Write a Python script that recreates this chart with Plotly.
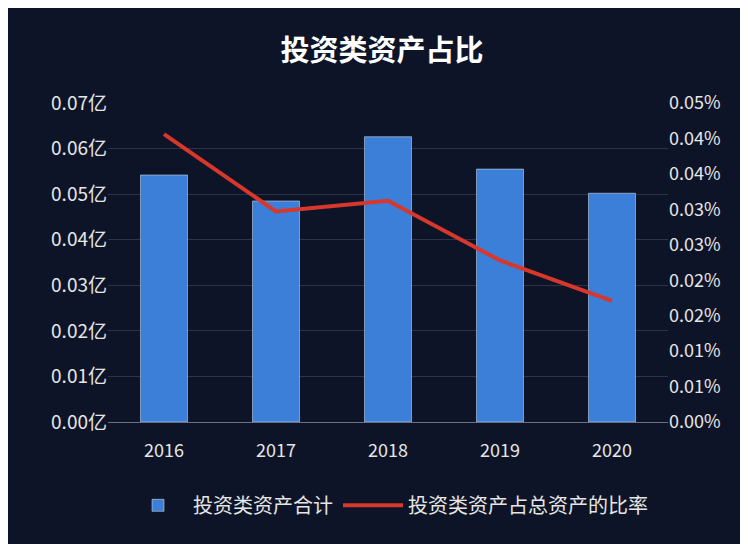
import plotly.graph_objects as go

years = ["2016", "2017", "2018", "2019", "2020"]
totals = [0.0542, 0.0485, 0.0626, 0.0555, 0.0502]
ratios = [0.0406, 0.0297, 0.0312, 0.0228, 0.0171]
left_ticks = [0, 0.01, 0.02, 0.03, 0.04, 0.05, 0.06, 0.07]
left_labels = ["0.00亿", "0.01亿", "0.02亿", "0.03亿", "0.04亿", "0.05亿", "0.06亿", "0.07亿"]
right_ticks = [0, 0.005, 0.01, 0.015, 0.02, 0.025, 0.03, 0.035, 0.04, 0.045]
right_labels = ["0.00%", "0.01%", "0.01%", "0.02%", "0.02%", "0.03%", "0.03%", "0.04%", "0.04%", "0.05%"]

bg = "#0e1427"
font = "Noto Sans CJK SC"
fig = go.Figure()
fig.add_bar(x=years, y=totals, name="投资类资产合计", marker_color="#3b7fd8", width=0.42)
fig.add_scatter(x=years, y=ratios, name="投资类资产占总资产的比率", yaxis="y2", mode="lines",
                line=dict(color="#d8372c", width=4))
fig.update_layout(
    width=748, height=544, paper_bgcolor=bg, plot_bgcolor=bg,
    font=dict(family=font, color="#e6e6e6", size=19),
    title=dict(text="<b>投资类资产占比</b>", x=0.5, y=0.94, xanchor="center",
               font=dict(size=29, color="white")),
    margin=dict(l=100, r=88, t=95, b=130),
    xaxis=dict(tickfont=dict(size=18), showgrid=False, showline=True, linecolor="#6b7080",
               ticks="outside", ticklen=12, tickcolor=bg),
    yaxis=dict(range=[0, 0.07], tickvals=left_ticks, ticktext=left_labels,
               gridcolor="#2c3348", zeroline=False, tickfont=dict(size=19)),
    yaxis2=dict(range=[0, 0.045], tickvals=right_ticks, ticktext=right_labels,
                overlaying="y", side="right", showgrid=False, zeroline=False, tickfont=dict(size=18)),
    legend=dict(orientation="h", x=0.5, xanchor="center", y=-0.2, yanchor="top",
                font=dict(size=20), itemwidth=60),
)
fig.write_html("out.html")
